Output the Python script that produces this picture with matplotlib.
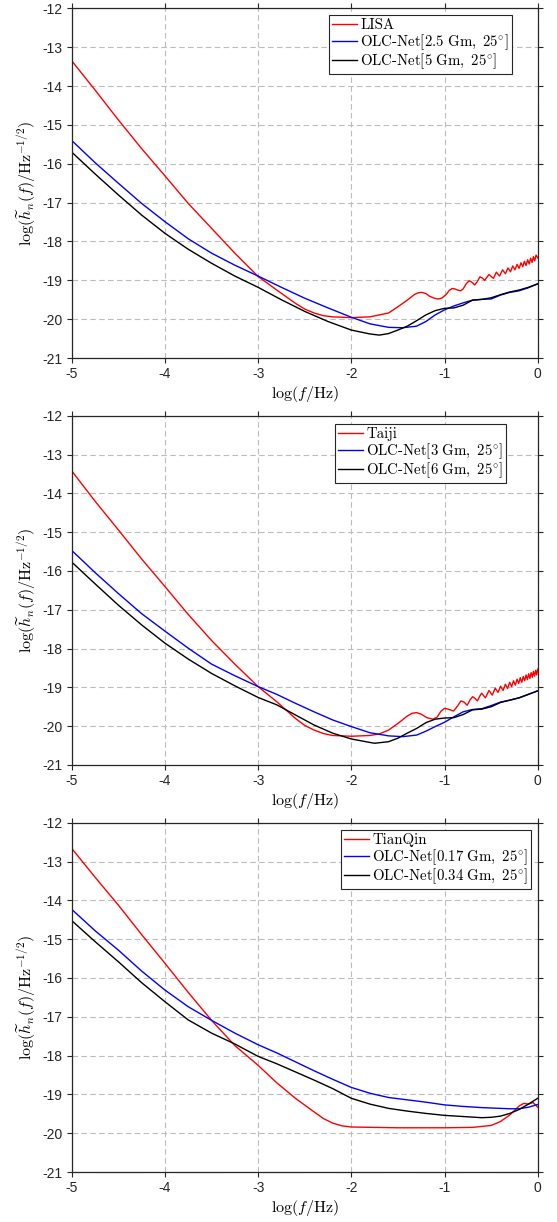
import matplotlib
matplotlib.use('Agg')
import matplotlib.pyplot as plt

plt.rcParams['font.family'] = ['Liberation Sans', 'DejaVu Sans']
plt.rcParams['mathtext.fontset'] = 'cm'
plt.rcParams['axes.unicode_minus'] = False

# ---------------- LISA panel ----------------
lisa_x = [-5.0, -4.75, -4.5, -4.25, -4.0, -3.75, -3.5, -3.25, -3.0, -2.8, -2.6, -2.5, -2.4, -2.3,
          -2.2, -2.0, -1.8, -1.6, -1.5, -1.4, -1.32, -1.28, -1.244, -1.2, -1.16, -1.11, -1.07,
          -1.03, -0.98, -0.95, -0.917, -0.89, -0.86, -0.828, -0.80, -0.765, -0.735, -0.705,
          -0.677, -0.65, -0.62, -0.595, -0.57, -0.523, -0.475, -0.444, -0.41, -0.377, -0.347,
          -0.319, -0.292, -0.268, -0.244, -0.222, -0.2, -0.18, -0.161, -0.143, -0.125, -0.108,
          -0.092, -0.076, -0.06, -0.046, -0.032, -0.018, 0.0]
lisa_y = [-13.35, -14.10, -14.87, -15.61, -16.31, -17.02, -17.66, -18.30, -18.90, -19.25, -19.59,
          -19.74, -19.84, -19.91, -19.94, -19.96, -19.94, -19.84, -19.68, -19.51, -19.36, -19.32,
          -19.31, -19.34, -19.41, -19.46, -19.48, -19.46, -19.36, -19.26, -19.21, -19.22, -19.25,
          -19.27, -19.22, -19.08, -19.01, -19.05, -19.12, -19.04, -18.91, -18.94, -19.00, -18.85,
          -18.95, -18.79, -18.89, -18.73, -18.83, -18.68, -18.78, -18.63, -18.73, -18.59, -18.69,
          -18.55, -18.65, -18.51, -18.62, -18.47, -18.58, -18.43, -18.54, -18.39, -18.50, -18.35,
          -18.42]

lisa_olc_xa = [-5.0, -4.75, -4.5, -4.25, -4.0, -3.75, -3.5, -3.25, -3.0, -2.75, -2.5, -2.25, -2.0,
               -1.8, -1.6, -1.45, -1.3, -1.2, -1.1, -1.0, -0.9, -0.8, -0.7, -0.6, -0.5, -0.4, -0.3,
               -0.2, -0.1, 0.0]
lisa_olc_a = [-15.40, -15.97, -16.50, -17.02, -17.49, -17.93, -18.30, -18.61, -18.89, -19.18,
              -19.46, -19.71, -19.95, -20.12, -20.21, -20.22, -20.18, -20.06, -19.89, -19.76,
              -19.66, -19.58, -19.51, -19.49, -19.48, -19.38, -19.31, -19.27, -19.19, -19.09]

lisa_olc_xb = [-5.0, -4.75, -4.5, -4.25, -4.0, -3.75, -3.5, -3.25, -3.0, -2.75, -2.5, -2.25, -2.0,
               -1.8, -1.7, -1.6, -1.5, -1.4, -1.3, -1.2, -1.1, -1.0, -0.9, -0.8, -0.7, -0.6, -0.5,
               -0.4, -0.3, -0.2, -0.1, 0.0]
lisa_olc_b = [-15.70, -16.26, -16.80, -17.32, -17.79, -18.20, -18.56, -18.89, -19.18, -19.50,
              -19.80, -20.06, -20.28, -20.38, -20.41, -20.37, -20.28, -20.18, -20.04, -19.89,
              -19.78, -19.72, -19.71, -19.64, -19.51, -19.49, -19.45, -19.37, -19.30, -19.25,
              -19.18, -19.09]

# ---------------- Taiji panel ----------------
taiji_x = [-5.0, -4.75, -4.5, -4.25, -4.0, -3.75, -3.5, -3.25, -3.0, -2.8, -2.6, -2.5, -2.4, -2.3,
           -2.2, -2.0, -1.8, -1.7, -1.6, -1.5, -1.4, -1.35, -1.301, -1.25, -1.19, -1.125, -1.08,
           -1.04, -1.0, -0.95, -0.903, -0.86, -0.824, -0.79, -0.757, -0.725, -0.699, -0.67,
           -0.648, -0.62, -0.602, -0.561, -0.523, -0.488, -0.456, -0.426, -0.398,
           -0.372, -0.347, -0.323, -0.301, -0.28, -0.26, -0.24, -0.222, -0.204, -0.187, -0.171,
           -0.155, -0.14, -0.125, -0.111, -0.097, -0.084, -0.071, -0.058, -0.046, -0.034,
           -0.022, -0.011, 0.0]
taiji_y = [-13.42, -14.20, -14.94, -15.69, -16.40, -17.12, -17.79, -18.40, -18.98, -19.37, -19.80,
           -19.98, -20.10, -20.19, -20.24, -20.26, -20.24, -20.20, -20.10, -19.93, -19.74, -19.67,
           -19.65, -19.69, -19.78, -19.82, -19.77, -19.62, -19.54, -19.57, -19.61, -19.48, -19.35,
           -19.38, -19.46, -19.32, -19.24, -19.29, -19.35, -19.22, -19.15, -19.27, -19.08, -19.20,
           -19.02, -19.13, -18.97, -19.08, -18.92, -19.03, -18.87, -18.98, -18.83, -18.94, -18.79,
           -18.90, -18.75, -18.87, -18.72, -18.83, -18.68, -18.80, -18.65, -18.77, -18.62, -18.74,
           -18.59, -18.71, -18.56, -18.68, -18.53]

taiji_olc_xa = [-5.0, -4.75, -4.5, -4.25, -4.0, -3.75, -3.5, -3.25, -3.0, -2.8, -2.6, -2.4, -2.2,
                -2.0, -1.8, -1.6, -1.45, -1.3, -1.2, -1.1, -1.0, -0.9, -0.8, -0.7, -0.6, -0.5,
                -0.4, -0.3, -0.2, -0.1, 0.0]
taiji_olc_a = [-15.47, -16.04, -16.58, -17.10, -17.55, -17.99, -18.40, -18.70, -18.98, -19.18,
               -19.41, -19.63, -19.84, -20.01, -20.17, -20.25, -20.27, -20.23, -20.13, -20.01,
               -19.90, -19.76, -19.63, -19.57, -19.55, -19.47, -19.38, -19.33, -19.27, -19.18,
               -19.09]

taiji_olc_xb = [-5.0, -4.75, -4.5, -4.25, -4.0, -3.75, -3.5, -3.25, -3.0, -2.8, -2.6, -2.4, -2.2,
                -2.0, -1.8, -1.75, -1.6, -1.5, -1.4, -1.3, -1.2, -1.1, -1.0, -0.9, -0.8, -0.7,
                -0.6, -0.5, -0.4, -0.3, -0.2, -0.1, 0.0]
taiji_olc_b = [-15.77, -16.33, -16.88, -17.39, -17.86, -18.27, -18.64, -18.96, -19.26, -19.45,
               -19.71, -19.97, -20.18, -20.33, -20.42, -20.44, -20.40, -20.31, -20.18, -20.06,
               -19.91, -19.82, -19.79, -19.78, -19.70, -19.58, -19.56, -19.50, -19.39, -19.33,
               -19.27, -19.18, -19.09]

# ---------------- TianQin panel ----------------
tq_x = [-5.0, -4.75, -4.5, -4.25, -4.0, -3.75, -3.5, -3.25, -3.0, -2.8, -2.6, -2.4, -2.3, -2.2,
        -2.1, -2.0, -1.5, -1.0, -0.7, -0.5, -0.4, -0.3, -0.2, -0.15, -0.1, -0.05, 0.0]
tq_y = [-12.66, -13.40, -14.12, -14.88, -15.62, -16.37, -17.09, -17.74, -18.25, -18.70, -19.10,
        -19.45, -19.62, -19.74, -19.81, -19.84, -19.86, -19.86, -19.85, -19.80, -19.70, -19.53,
        -19.30, -19.23, -19.25, -19.21, -19.33]

tq_olc_x = [-5.0, -4.75, -4.5, -4.25, -4.0, -3.75, -3.5, -3.25, -3.0, -2.8, -2.6, -2.4, -2.2,
            -2.0, -1.8, -1.6, -1.4, -1.2, -1.0, -0.8, -0.6, -0.5, -0.4, -0.3, -0.2, -0.1, 0.0]
tq_olc_a = [-14.23, -14.78, -15.28, -15.82, -16.31, -16.74, -17.09, -17.42, -17.72, -17.93,
            -18.16, -18.39, -18.61, -18.82, -18.97, -19.08, -19.14, -19.20, -19.27, -19.31,
            -19.34, -19.35, -19.36, -19.37, -19.37, -19.33, -19.26]
tq_olc_b = [-14.52, -15.06, -15.58, -16.12, -16.61, -17.08, -17.42, -17.70, -18.02, -18.21,
            -18.42, -18.63, -18.85, -19.10, -19.25, -19.36, -19.43, -19.49, -19.54, -19.57,
            -19.60, -19.59, -19.56, -19.49, -19.39, -19.25, -19.10]

panels = [
    dict(det=(lisa_x, lisa_y), a=(lisa_olc_xa, lisa_olc_a), b=(lisa_olc_xb, lisa_olc_b),
         labels=['LISA', r'OLC-Net$[2.5\ \mathrm{Gm},\ 25^{\circ}]$', r'OLC-Net$[5\ \mathrm{Gm},\ 25^{\circ}]$'],
         anchor=(0.944, 0.980)),
    dict(det=(taiji_x, taiji_y), a=(taiji_olc_xa, taiji_olc_a), b=(taiji_olc_xb, taiji_olc_b),
         labels=['Taiji', r'OLC-Net$[3\ \mathrm{Gm},\ 25^{\circ}]$', r'OLC-Net$[6\ \mathrm{Gm},\ 25^{\circ}]$'],
         anchor=(0.932, 0.976)),
    dict(det=(tq_x, tq_y), a=(tq_olc_x, tq_olc_a), b=(tq_olc_x, tq_olc_b),
         labels=['TianQin', r'OLC-Net$[0.17\ \mathrm{Gm},\ 25^{\circ}]$', r'OLC-Net$[0.34\ \mathrm{Gm},\ 25^{\circ}]$'],
         anchor=(0.986, 0.979)),
]

# axes boxes in figure fractions (left, bottom, width, height)
boxes = [[0.1287, 0.7070, 0.8367, 0.2862],
         [0.1287, 0.3740, 0.8367, 0.2858],
         [0.1287, 0.0409, 0.8367, 0.2858]]

fig = plt.figure(figsize=(5.57, 12.22), dpi=100)

for p, box in zip(panels, boxes):
    ax = fig.add_axes(box)
    ax.plot(*p['det'], color='#ff0000', lw=1.0, label=p['labels'][0])
    ax.plot(*p['a'], color='#0000ff', lw=1.0, label=p['labels'][1])
    ax.plot(*p['b'], color='#000000', lw=1.0, label=p['labels'][2])

    ax.set_xlim(-5, 0)
    ax.set_ylim(-21, -12)
    ax.set_xticks(range(-5, 1))
    ax.set_yticks(range(-21, -11))
    ax.grid(True, color='#bdbdbd', lw=0.8, dashes=(5, 3))
    ax.tick_params(direction='out', length=3.5, width=0.8, top=True, right=True,
                   labelsize=10, colors='#262626', pad=3)
    for s in ax.spines.values():
        s.set_color('#262626')
        s.set_linewidth(0.9)

    ax.set_xlabel(r'$\log(f/\mathrm{Hz})$', fontsize=11.5, labelpad=2)
    ax.set_ylabel(r'$\log(\widetilde{h}_n(f)/\mathrm{Hz}^{-1/2})$', fontsize=11.5, labelpad=3)

    leg = ax.legend(loc='upper right', bbox_to_anchor=p['anchor'], borderaxespad=0,
                    prop={'family': 'cmr10', 'size': 10.7}, fancybox=False, framealpha=1,
                    edgecolor='#262626', handlelength=1.7, handletextpad=0.2,
                    borderpad=0.2, labelspacing=0.0)
    leg.get_frame().set_linewidth(0.8)

fig.savefig('out.png', dpi=100)
